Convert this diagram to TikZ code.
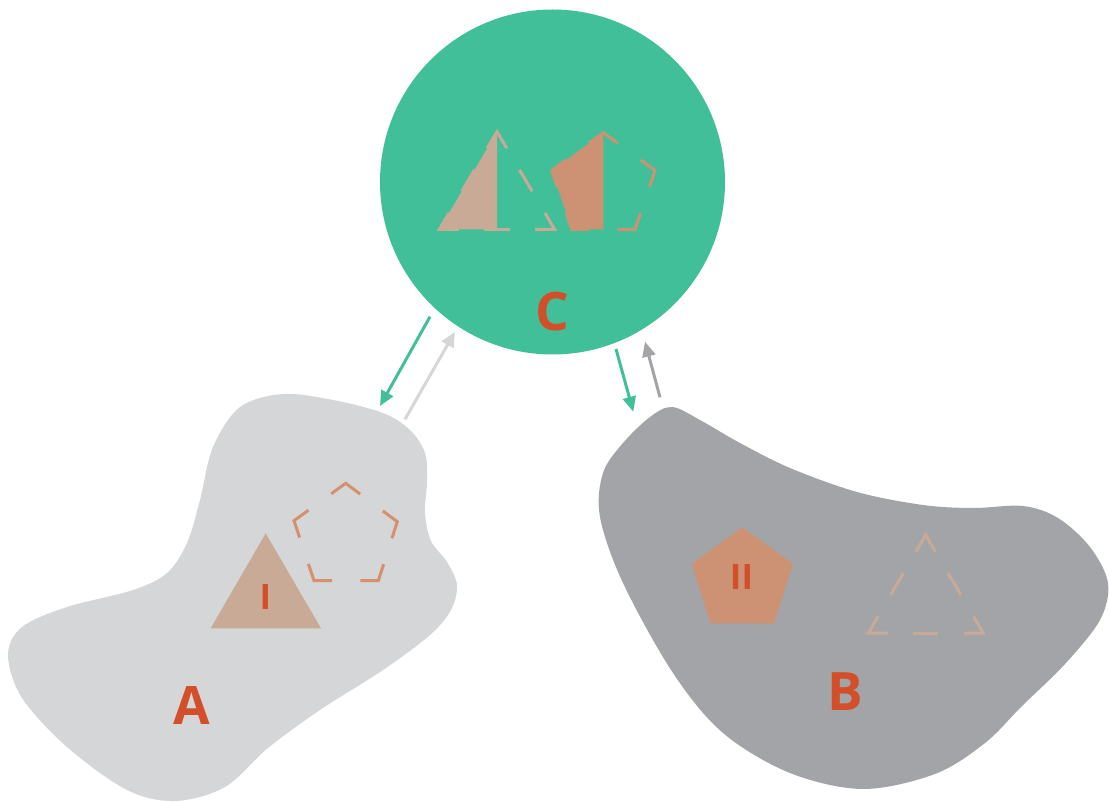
\documentclass[tikz,border=0pt]{standalone}
\usepackage{fontspec}
\setmainfont{Open Sans}
\usetikzlibrary{arrows.meta,calc}

\definecolor{cgreen}{HTML}{41BF98}
\definecolor{clight}{HTML}{D5D6D8}
\definecolor{cdark}{HTML}{A3A4A7}
\definecolor{ctan}{HTML}{C9AA96}
\definecolor{cclay}{HTML}{CC9273}
\definecolor{cclayline}{HTML}{D4906F}
\definecolor{clabel}{HTML}{D24F2A}

\tikzset{
  bigletter/.style={text=clabel, font=\fontsize{53}{53}\selectfont\bfseries, inner sep=0pt},
  smallletter/.style={text=clabel, font=\fontsize{35}{35}\selectfont\bfseries, inner sep=0pt},
  outline/.style={line width=3pt, line cap=butt, line join=miter},
  flow/.style={line width=3pt, -{Triangle[length=15pt,width=13pt]}},
}

\begin{document}
\begin{tikzpicture}[x=1pt,y=-1pt]
\useasboundingbox (0,0) rectangle (1109,802);

% ---- region A (light blob)
\fill[clight] plot[smooth cycle, tension=0.55] coordinates {
  (283,394) (333,400) (383,413) (410,430) (425,453) (427,482) (425,513)
  (431,541) (447,562) (457,585) (451,610) (430,635) (383,670) (320,710)
  (268,748) (225,787) (175,801) (127,790) (67,747) (22,698) (8,655)
  (22,627) (67,607) (133,590) (167,573) (187,543) (200,500) (213,447) (240,407)};

% ---- region B (dark blob)
\fill[cdark] plot[smooth cycle, tension=0.55] coordinates {
  (672,407) (700,420) (740,443) (790,468) (857,492) (923,505) (973,508)
  (1023,506) (1058,518) (1090,547) (1108,583) (1100,620) (1065,664)
  (1022,706) (985,743) (935,774) (863,789) (790,773) (723,733) (673,673)
  (623,583) (600,517) (603,473) (623,443) (650,417)};

% ---- region C (circle)
\node[circle, fill=cgreen, minimum size=345pt, inner sep=0pt] (C) at (552.5,182) {};

% ---- labels of the regions
\node[bigletter] (labC) at (552,312) {C};
\node[bigletter] (labA) at (192,706) {A};
\node[bigletter] (labB) at (845,692) {B};

% ---- A: filled triangle I and dashed pentagon
\fill[ctan] (265.7,533.3) -- (210.7,628.3) -- (321,628.3) -- cycle;
\node[smallletter] (labI) at (265.5,597) {I};

\coordinate (pa1) at (345.7,483.3);
\coordinate (pa2) at (397.3,521.7);
\coordinate (pa3) at (378.3,580.7);
\coordinate (pa4) at (314,580.7);
\coordinate (pa5) at (294,520.7);
\foreach \a/\b/\c in {pa5/pa1/pa2, pa1/pa2/pa3, pa2/pa3/pa4, pa3/pa4/pa5, pa4/pa5/pa1}
  \draw[outline, cclayline] ($(\b)!0.28!(\a)$) -- (\b) -- ($(\b)!0.28!(\c)$);

% ---- B: filled pentagon II and dashed triangle
\fill[cclay] (742.3,527.3) -- (793,564) -- (774,623.3) -- (710.7,623.3) -- (691.7,564) -- cycle;
\node[smallletter] (labII) at (741.5,577) {II};

\coordinate (tb1) at (925.7,535);
\coordinate (tb2) at (983.3,633);
\coordinate (tb3) at (868.3,633);
\foreach \a/\b/\c in {tb3/tb1/tb2, tb1/tb2/tb3, tb2/tb3/tb1}
  \draw[outline, ctan] ($(\b)!0.17!(\a)$) -- (\b) -- ($(\b)!0.17!(\c)$);
\foreach \a/\b in {tb1/tb2, tb2/tb3, tb3/tb1}
  \draw[outline, ctan] ($(\a)!0.39!(\b)$) -- ($(\a)!0.61!(\b)$);

% ---- C: half-filled triangle and half-filled pentagon
\coordinate (tc1) at (497,131.7);
\coordinate (tc2) at (554.7,229.5);
\coordinate (tc3) at (439.3,229.5);
\fill[ctan] (tc1) -- (tc3) -- (497,229.5) -- cycle;
\foreach \a/\b/\c in {tc3/tc1/tc2, tc1/tc2/tc3, tc2/tc3/tc1}
  \draw[outline, ctan] ($(\b)!0.17!(\a)$) -- (\b) -- ($(\b)!0.17!(\c)$);
\foreach \a/\b in {tc1/tc2, tc2/tc3, tc3/tc1}
  \draw[outline, ctan] ($(\a)!0.39!(\b)$) -- ($(\a)!0.61!(\b)$);

\coordinate (pc1) at (603.3,132.7);
\coordinate (pc2) at (655,170.5);
\coordinate (pc3) at (635,229.5);
\coordinate (pc4) at (571.7,229.5);
\coordinate (pc5) at (551.7,170.5);
\fill[cclay] (pc1) -- (pc5) -- (pc4) -- (603.3,229.5) -- cycle;
\foreach \a/\b/\c in {pc5/pc1/pc2, pc1/pc2/pc3, pc2/pc3/pc4, pc3/pc4/pc5, pc4/pc5/pc1}
  \draw[outline, cclay] ($(\b)!0.28!(\a)$) -- (\b) -- ($(\b)!0.28!(\c)$);

% ---- exchange arrows
\coordinate (caOut) at (430,316.7);
\coordinate (aIn)   at (380,406);
\coordinate (aOut)  at (405,419.3);
\coordinate (cIn1)  at (455,331.7);
\coordinate (cbOut) at (616,349);
\coordinate (bIn)   at (633.3,411.7);
\coordinate (bOut)  at (660,397.3);
\coordinate (cIn2)  at (645,341.7);

\draw[flow, cgreen] (caOut) -- (aIn);
\draw[flow, clight] (aOut) -- (cIn1);
\draw[flow, cgreen] (cbOut) -- (bIn);
\draw[flow, cdark] (bOut) -- (cIn2);

\end{tikzpicture}
\end{document}
